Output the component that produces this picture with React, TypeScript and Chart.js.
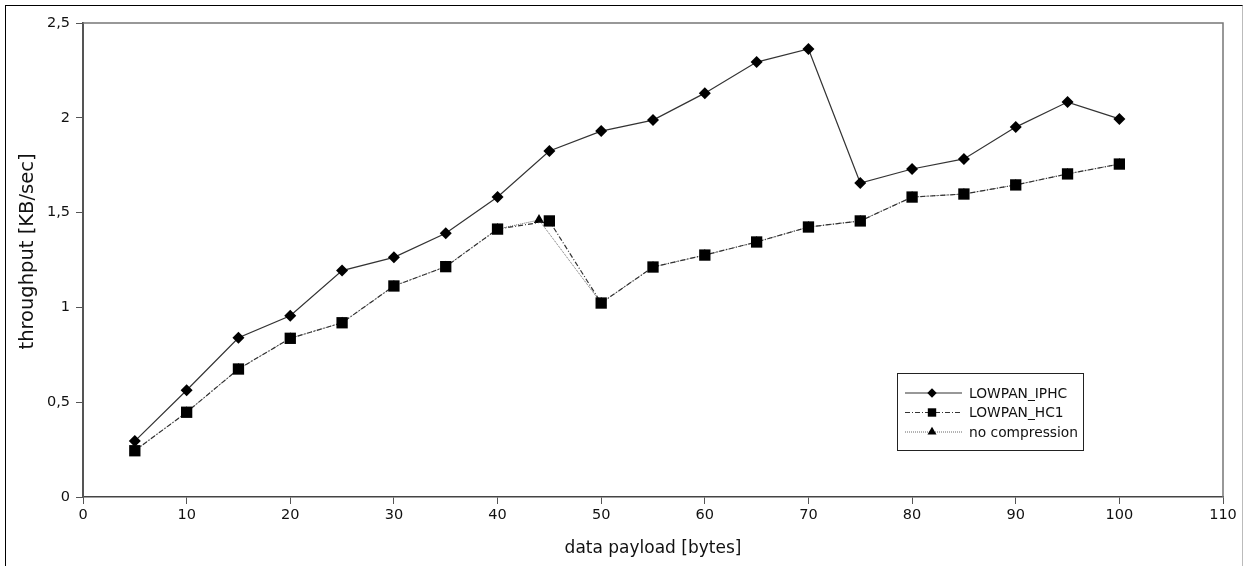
import React, { useEffect, useRef } from "react";
import { Chart, registerables } from "chart.js";

Chart.register(...registerables);

const payloadX = [5, 10, 15, 20, 25, 30, 35, 40, 45, 50, 55, 60, 65, 70, 75, 80, 85, 90, 95, 100];
const noCompX = [5, 10, 15, 20, 25, 30, 35, 40, 44, 50, 55, 60, 65, 70, 75, 80, 85, 90, 95, 100];
const iphcValues = [0.295, 0.563, 0.84, 0.956, 1.194, 1.264, 1.391, 1.582, 1.825, 1.93, 1.988, 2.13, 2.294, 2.363, 1.656, 1.73, 1.783, 1.951, 2.083, 1.994];
const hc1Values = [0.244, 0.447, 0.675, 0.837, 0.919, 1.113, 1.215, 1.413, 1.456, 1.023, 1.213, 1.276, 1.345, 1.424, 1.456, 1.582, 1.598, 1.646, 1.704, 1.756];
const noCompValues = [0.244, 0.447, 0.675, 0.837, 0.919, 1.113, 1.215, 1.413, 1.461, 1.023, 1.213, 1.276, 1.345, 1.424, 1.456, 1.582, 1.598, 1.646, 1.704, 1.756];
const seriesLabels = ["LOWPAN_IPHC", "LOWPAN_HC1", "no compression"];
const xTitle = "data payload [bytes]";
const yTitle = "throughput [KB/sec]";

const FONT = "'DejaVu Sans', sans-serif";

const toPts = (xs: number[], ys: number[]) => xs.map((x, i) => ({ x, y: ys[i] }));

const legendStyles = [
  { dash: [] as number[], shape: "diamond", lineColor: "#333", lineWidth: 1.2 },
  { dash: [5, 2, 1, 2], shape: "square", lineColor: "#333", lineWidth: 1.2 },
  { dash: [1, 1], shape: "triangle", lineColor: "#666", lineWidth: 1 },
];

function drawMarker(ctx: CanvasRenderingContext2D, shape: string, x: number, y: number) {
  ctx.save();
  ctx.fillStyle = "#000";
  ctx.beginPath();
  if (shape === "diamond") {
    const r = 4.7;
    ctx.moveTo(x, y - r);
    ctx.lineTo(x + r, y);
    ctx.lineTo(x, y + r);
    ctx.lineTo(x - r, y);
  } else if (shape === "square") {
    const s = 4.2;
    ctx.rect(x - s, y - s, 2 * s, 2 * s);
  } else {
    const r = 5.2;
    ctx.moveTo(x, y - r);
    ctx.lineTo(x + r * 0.866, y + r * 0.5);
    ctx.lineTo(x - r * 0.866, y + r * 0.5);
  }
  ctx.closePath();
  ctx.fill();
  ctx.restore();
}

const framePlugin = {
  id: "frameAndLegend",
  afterDraw(chart: any) {
    const { ctx, chartArea } = chart;
    const { left, right, top, bottom } = chartArea;
    ctx.save();
    ctx.strokeStyle = "#777";
    ctx.lineWidth = 1.5;
    ctx.beginPath();
    ctx.moveTo(left, top);
    ctx.lineTo(right, top);
    ctx.lineTo(right, bottom);
    ctx.stroke();

    // axis titles
    ctx.fillStyle = "#111";
    ctx.textAlign = "center";
    ctx.textBaseline = "alphabetic";
    ctx.font = `17px ${FONT}`;
    ctx.fillText(xTitle, (left + right) / 2, 553);
    ctx.save();
    ctx.translate(32.5, 251.5);
    ctx.rotate(-Math.PI / 2);
    ctx.font = `19.5px ${FONT}`;
    ctx.fillText(yTitle, 0, 0);
    ctx.restore();

    // legend
    const bx = 897.5, by = 373.5, bw = 186, bh = 77;
    ctx.fillStyle = "#fff";
    ctx.fillRect(bx, by, bw, bh);
    ctx.strokeStyle = "#222";
    ctx.lineWidth = 1;
    ctx.strokeRect(bx, by, bw, bh);
    ctx.font = `13.8px ${FONT}`;
    ctx.textBaseline = "middle";
    ctx.textAlign = "left";
    seriesLabels.forEach((label, i) => {
      const st = legendStyles[i];
      const y = 393 + i * 19.5;
      ctx.save();
      ctx.strokeStyle = st.lineColor;
      ctx.lineWidth = st.lineWidth;
      ctx.setLineDash(st.dash);
      ctx.beginPath();
      ctx.moveTo(905, y);
      ctx.lineTo(962, y);
      ctx.stroke();
      ctx.restore();
      drawMarker(ctx, st.shape, 932, y);
      ctx.fillStyle = "#111";
      ctx.fillText(label, 969, y + 1);
    });
    ctx.restore();
  },
};

const fmt = (v: any) => String(v).replace(".", ",");

export default function App() {
  const ref = useRef<HTMLCanvasElement | null>(null);
  useEffect(() => {
    if (!ref.current) return;
    const chart = new Chart(ref.current, {
      type: "line",
      data: {
        datasets: [
          {
            label: seriesLabels[0],
            data: toPts(payloadX, iphcValues),
            borderColor: "#333",
            borderWidth: 1.2,
            backgroundColor: "#000",
            pointStyle: "rectRot",
            pointRadius: 6,
            pointBorderWidth: 0,
            pointBackgroundColor: "#000",
            fill: false,
            tension: 0,
          },
          {
            label: seriesLabels[1],
            data: toPts(payloadX, hc1Values),
            borderColor: "#333",
            borderWidth: 1.2,
            borderDash: [5, 2, 1, 2],
            backgroundColor: "#000",
            pointStyle: "rect",
            pointRadius: 8,
            pointBorderWidth: 0,
            pointBackgroundColor: "#000",
            fill: false,
            tension: 0,
          },
          {
            label: seriesLabels[2],
            data: toPts(noCompX, noCompValues),
            borderColor: "#666",
            borderWidth: 1,
            borderDash: [1, 1],
            backgroundColor: "#000",
            pointStyle: "triangle",
            pointRadius: 6,
            pointBorderWidth: 0,
            pointBackgroundColor: "#000",
            fill: false,
            tension: 0,
          },
        ],
      },
      options: {
        responsive: false,
        animation: false,
        devicePixelRatio: 1,
        layout: { padding: { left: 0, top: 23, right: 25, bottom: 0 } },
        plugins: { legend: { display: false }, tooltip: { enabled: false } },
        scales: {
          x: {
            type: "linear",
            min: 0,
            max: 110,
            ticks: { stepSize: 10, color: "#111", font: { family: FONT, size: 14.5 }, padding: 3, callback: fmt },
            grid: { drawOnChartArea: false, drawTicks: true, tickLength: 7, color: "#555", lineWidth: 1 },
            border: { display: true, color: "#444", width: 1.5 },
            title: { display: false },
            afterFit: (s: any) => { s.height = 69; },
          },
          y: {
            type: "linear",
            min: 0,
            max: 2.5,
            ticks: { stepSize: 0.5, color: "#111", font: { family: FONT, size: 14.5 }, padding: 6, callback: fmt },
            grid: { drawOnChartArea: false, drawTicks: true, tickLength: 7, color: "#555", lineWidth: 1 },
            border: { display: true, color: "#555", width: 2 },
            title: { display: false },
            afterFit: (s: any) => { s.width = 83; },
          },
        },
      } as any,
      plugins: [framePlugin],
    });
    return () => chart.destroy();
  }, []);

  return (
    <div style={{ position: "fixed", left: 0, top: 0, width: 1248, height: 566, background: "#fff", overflow: "hidden" }}>
      <canvas ref={ref} width={1248} height={566} style={{ position: "absolute", left: 0, top: 0 }} />
      <div
        style={{
          position: "absolute",
          left: 5,
          top: 5,
          width: 1236,
          height: 620,
          borderLeft: "1px solid #000",
          borderTop: "1px solid #000",
          borderRight: "1px solid #bbb",
          pointerEvents: "none",
        }}
      />
    </div>
  );
}
